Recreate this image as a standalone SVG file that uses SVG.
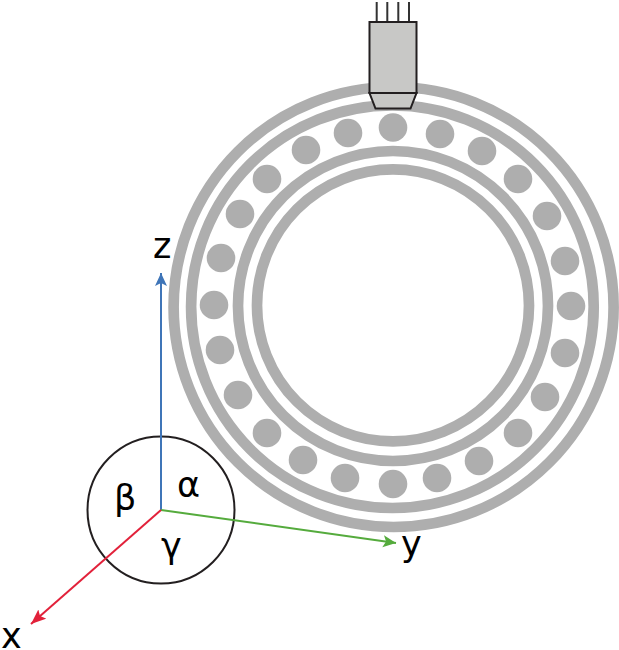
<svg xmlns="http://www.w3.org/2000/svg" width="619" height="650" viewBox="0 0 619 650">
<defs>
<style>
.ring{fill:none;stroke:#aeaeae;stroke-width:10.7}
.ball{fill:#aeaeae}
.lead{stroke:#333;stroke-width:2;fill:none}
.body{fill:#c8c8c6;stroke:#231f20;stroke-width:2}
.lbl{font-family:"DejaVu Sans",sans-serif;font-size:35px;fill:#000}
</style>
<marker id="hb" markerUnits="userSpaceOnUse" markerWidth="14" markerHeight="14" refX="13" refY="6" orient="auto"><path d="M13 6L0 0L3 6L0 12Z" fill="#3f75b8"/></marker>
<marker id="hg" markerUnits="userSpaceOnUse" markerWidth="14" markerHeight="14" refX="13" refY="6" orient="auto"><path d="M13 6L0 0L3 6L0 12Z" fill="#55ab3d"/></marker>
<marker id="hr" markerUnits="userSpaceOnUse" markerWidth="16" markerHeight="14" refX="15" refY="6" orient="auto"><path d="M15 6L0 0L3 6L0 12Z" fill="#e2213a"/></marker>
</defs>
<g id="bearing">
<circle class="ring" cx="393.600" cy="307" r="220"/>
<circle class="ring" cx="392.400" cy="306.700" r="201.300"/>
<circle class="ring" cx="393" cy="306" r="155"/>
<circle class="ring" cx="393" cy="305.400" r="136"/>
<g class="ball-set">
<circle class="ball" cx="393" cy="127.500" r="14.300"/><circle class="ball" cx="440" cy="134" r="14.300"/><circle class="ball" cx="482" cy="151" r="14.300"/><circle class="ball" cx="518" cy="179" r="14.300"/><circle class="ball" cx="547" cy="216" r="14.300"/><circle class="ball" cx="565" cy="261" r="14.300"/><circle class="ball" cx="571" cy="306" r="14.300"/><circle class="ball" cx="565" cy="353" r="14.300"/><circle class="ball" cx="545" cy="397" r="14.300"/><circle class="ball" cx="518" cy="433" r="14.300"/><circle class="ball" cx="479" cy="461" r="14.300"/><circle class="ball" cx="437" cy="478" r="14.300"/><circle class="ball" cx="393" cy="484" r="14.300"/><circle class="ball" cx="345" cy="478" r="14.300"/><circle class="ball" cx="303" cy="460" r="14.300"/><circle class="ball" cx="267" cy="433" r="14.300"/><circle class="ball" cx="238" cy="395" r="14.300"/><circle class="ball" cx="220" cy="350" r="14.300"/><circle class="ball" cx="214" cy="305" r="14.300"/><circle class="ball" cx="221" cy="258" r="14.300"/><circle class="ball" cx="240" cy="214" r="14.300"/><circle class="ball" cx="267" cy="179" r="14.300"/><circle class="ball" cx="306" cy="150" r="14.300"/><circle class="ball" cx="348" cy="133" r="14.300"/>
</g>
</g>
<g id="sensor">
<path class="lead" d="M376.700 2V22M387.300 2V22M398.300 2V22M409 2V22"/>
<rect class="body" x="369.500" y="22" width="47" height="71"/>
<path class="body" d="M369.500 93H416.500L410.500 108.500H375.500Z"/>
</g>
<g id="angle-circle"><circle cx="161" cy="510" r="73.500" fill="none" stroke="#231f20" stroke-width="2"/></g>
<g id="axes">
<line x1="161" y1="510" x2="161" y2="273" stroke="#3f75b8" stroke-width="2" marker-end="url(#hb)"/>
<line x1="161" y1="510" x2="396" y2="543" stroke="#55ab3d" stroke-width="2" marker-end="url(#hg)"/>
<line x1="161" y1="510" x2="31" y2="624" stroke="#e2213a" stroke-width="2" marker-end="url(#hr)"/>
</g>
<g id="labels">
<text class="lbl" x="153" y="258">z</text>
<text class="lbl" x="401" y="556">y</text>
<text class="lbl" x="1" y="648">x</text>
<text class="lbl" x="177" y="497">α</text>
<text class="lbl" x="114" y="510">β</text>
<text class="lbl" x="161" y="558">γ</text>
</g>
</svg>
